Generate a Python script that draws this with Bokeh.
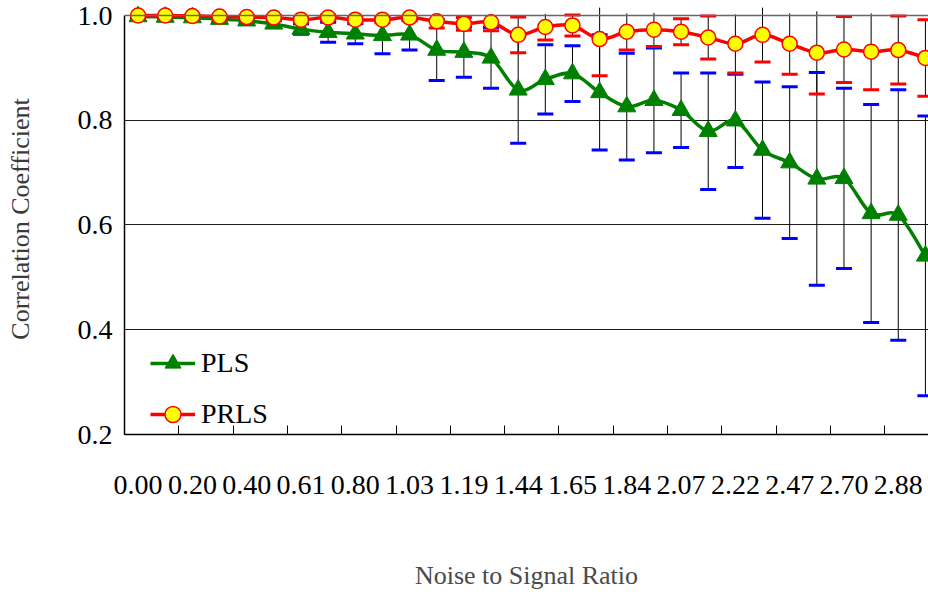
import numpy as np
from bokeh.plotting import figure
from bokeh.models import (ColumnDataSource, FixedTicker, Legend, LegendItem, Span,
                          Range1d, PrintfTickFormatter)
from bokeh.embed import file_html
from bokeh.resources import INLINE

# ---------------- data ----------------
noise_labels = ["0.00", "0.20", "0.40", "0.61", "0.80", "1.03", "1.19", "1.44",
                "1.65", "1.84", "2.07", "2.22", "2.47", "2.70", "2.88"]

pls_mean = [0.998, 0.997, 0.996, 0.993, 0.990, 0.984, 0.974, 0.968, 0.965, 0.962,
            0.963, 0.934, 0.930, 0.919, 0.858, 0.878, 0.889, 0.853, 0.826, 0.838,
            0.819, 0.779, 0.799, 0.743, 0.719, 0.688, 0.689, 0.622, 0.619, 0.541]
pls_std = [0.002, 0.003, 0.004, 0.005, 0.004, 0.006, 0.010, 0.019, 0.019, 0.035,
           0.029, 0.058, 0.048, 0.058, 0.102, 0.066, 0.053, 0.110, 0.102, 0.100,
           0.071, 0.111, 0.089, 0.130, 0.145, 0.203, 0.172, 0.208, 0.239, 0.267]

prls_mean = [1.000, 1.000, 0.999, 0.998, 0.997, 0.996, 0.992, 0.996, 0.992, 0.992,
             0.996, 0.989, 0.984, 0.987, 0.963, 0.978, 0.981, 0.955, 0.969, 0.973,
             0.969, 0.958, 0.946, 0.963, 0.946, 0.929, 0.935, 0.931, 0.934, 0.919]
prls_std = [0.001, 0.001, 0.002, 0.002, 0.003, 0.004, 0.005, 0.005, 0.006, 0.006,
            0.006, 0.013, 0.012, 0.016, 0.034, 0.025, 0.020, 0.070, 0.035, 0.032,
            0.025, 0.041, 0.056, 0.052, 0.058, 0.079, 0.063, 0.073, 0.065, 0.073]

# ---------------- helpers ----------------
FONT = "Liberation Serif"
x = np.arange(len(pls_mean), dtype=float)


def bezier_source(xs, ys):
    xs = np.asarray(xs, float)
    ys = np.asarray(ys, float)
    n = len(xs)
    xp = np.concatenate([[xs[0]], xs, [xs[-1]]])
    yp = np.concatenate([[ys[0]], ys, [ys[-1]]])
    i = np.arange(n - 1)
    return ColumnDataSource(dict(
        x0=xs[i], y0=ys[i], x1=xs[i + 1], y1=ys[i + 1],
        cx0=xs[i] + (xp[i + 2] - xp[i]) / 6.0,
        cy0=ys[i] + (yp[i + 2] - yp[i]) / 6.0,
        cx1=xs[i + 1] - (xp[i + 3] - xp[i + 1]) / 6.0,
        cy1=ys[i + 1] - (yp[i + 3] - yp[i + 1]) / 6.0,
    ))


def error_parts(mean, std):
    m = np.asarray(mean, float)
    s = np.asarray(std, float)
    lo = m - s
    hi = m + s
    stems = ColumnDataSource(dict(x=x, lo=lo, hi=np.minimum(hi, 1.015)))
    cx = np.concatenate([x, x[hi <= 1.001]])
    cy = np.concatenate([lo, hi[hi <= 1.001]])
    caps = ColumnDataSource(dict(x=cx, y=cy))
    return stems, caps


# ---------------- figure ----------------
x_end = -0.5 + 804.0 / 27.15
p = figure(width=928, height=595,
           x_range=Range1d(-0.5, x_end), y_range=Range1d(0.2, 1.0229),
           output_backend="svg", toolbar_location=None,
           min_border_left=124, min_border_right=0,
           min_border_top=3, min_border_bottom=161)
p.outline_line_color = None
p.background_fill_color = "white"
p.border_fill_color = "white"

# grid
p.xgrid.visible = False
p.ygrid.ticker = FixedTicker(ticks=[0.4, 0.6, 0.8])
p.ygrid.grid_line_color = "#1a1a1a"
p.ygrid.grid_line_width = 1
p.add_layout(Span(location=1.0, dimension="width", line_color="#666666", line_width=1.5))

# y axis
yax = p.yaxis[0]
yax.ticker = FixedTicker(ticks=[0.2, 0.4, 0.6, 0.8, 1.0])
yax.formatter = PrintfTickFormatter(format="%.1f")
yax.bounds = (0.2, 1.0)
yax.axis_line_color = "black"
yax.axis_line_width = 1.5
yax.major_tick_in = 0
yax.major_tick_out = 0
yax.minor_tick_line_color = None
yax.major_label_text_font = FONT
yax.major_label_text_font_size = "28px"
yax.major_label_text_color = "black"
yax.major_label_standoff = 12
yax.axis_label = "Correlation Coefficient"
yax.axis_label_text_font = FONT
yax.axis_label_text_font_size = "26px"
yax.axis_label_text_font_style = "normal"
yax.axis_label_text_color = "#3a3a3a"
yax.axis_label_standoff = 40

# x axis
xax = p.xaxis[0]
label_pos = [2 * k for k in range(len(noise_labels))]
xax.ticker = FixedTicker(ticks=label_pos,
                         minor_ticks=[v - 0.5 for v in label_pos])
xax.major_label_overrides = {v: lab for v, lab in zip(label_pos, noise_labels)}
xax.axis_line_color = "black"
xax.axis_line_width = 1.5
xax.major_tick_line_color = None
xax.major_tick_in = 0
xax.major_tick_out = 0
xax.minor_tick_line_color = "black"
xax.minor_tick_line_width = 1
xax.minor_tick_in = 9
xax.minor_tick_out = 0
xax.major_label_text_font = FONT
xax.major_label_text_font_size = "28px"
xax.major_label_text_color = "black"
xax.major_label_standoff = 41
xax.axis_label = "Noise to Signal Ratio"
xax.axis_label_text_font = FONT
xax.axis_label_text_font_size = "26px"
xax.axis_label_text_font_style = "normal"
xax.axis_label_text_color = "#4a4a4a"
xax.axis_label_standoff = 64

# ---------------- error bars ----------------
pls_stems, pls_caps = error_parts(pls_mean, pls_std)
prls_stems, prls_caps = error_parts(prls_mean, prls_std)

p.segment(x0="x", y0="lo", x1="x", y1="hi", source=pls_stems,
          line_color="black", line_width=1)
p.segment(x0="x", y0="lo", x1="x", y1="hi", source=prls_stems,
          line_color="black", line_width=1)
p.scatter(x="x", y="y", source=pls_caps, marker="dash", size=16,
          line_color="#0000FF", line_width=3)

# ---------------- PLS series ----------------
pls_curve = p.bezier(x0="x0", y0="y0", x1="x1", y1="y1", cx0="cx0", cy0="cy0",
                     cx1="cx1", cy1="cy1", source=bezier_source(x, pls_mean),
                     line_color="#008000", line_width=3.5)
pls_pts = p.scatter(x=x, y=pls_mean, marker="triangle", size=18,
                    fill_color="#008000", line_color="#008000", line_width=1)

# ---------------- PRLS series ----------------
p.scatter(x="x", y="y", source=prls_caps, marker="dash", size=16,
          line_color="#FF0000", line_width=3)
prls_curve = p.bezier(x0="x0", y0="y0", x1="x1", y1="y1", cx0="cx0", cy0="cy0",
                      cx1="cx1", cy1="cy1", source=bezier_source(x, prls_mean),
                      line_color="#FF0000", line_width=3.5)
prls_pts = p.scatter(x=x, y=prls_mean, marker="circle", size=15,
                     fill_color="#FFFF00", line_color="#FF0000", line_width=1.5)

# ---------------- legend ----------------
legend = Legend(items=[LegendItem(label="PLS", renderers=[pls_curve, pls_pts]),
                       LegendItem(label="PRLS", renderers=[prls_curve, prls_pts])],
                location=(26, 0), orientation="vertical",
                glyph_width=45, glyph_height=40, label_height=40,
                spacing=11, padding=0, margin=0, label_standoff=6,
                border_line_color=None, background_fill_alpha=0,
                label_text_font=FONT, label_text_font_size="28px",
                label_text_color="black")
p.add_layout(legend)

open("out.html", "w").write(file_html(p, INLINE))
